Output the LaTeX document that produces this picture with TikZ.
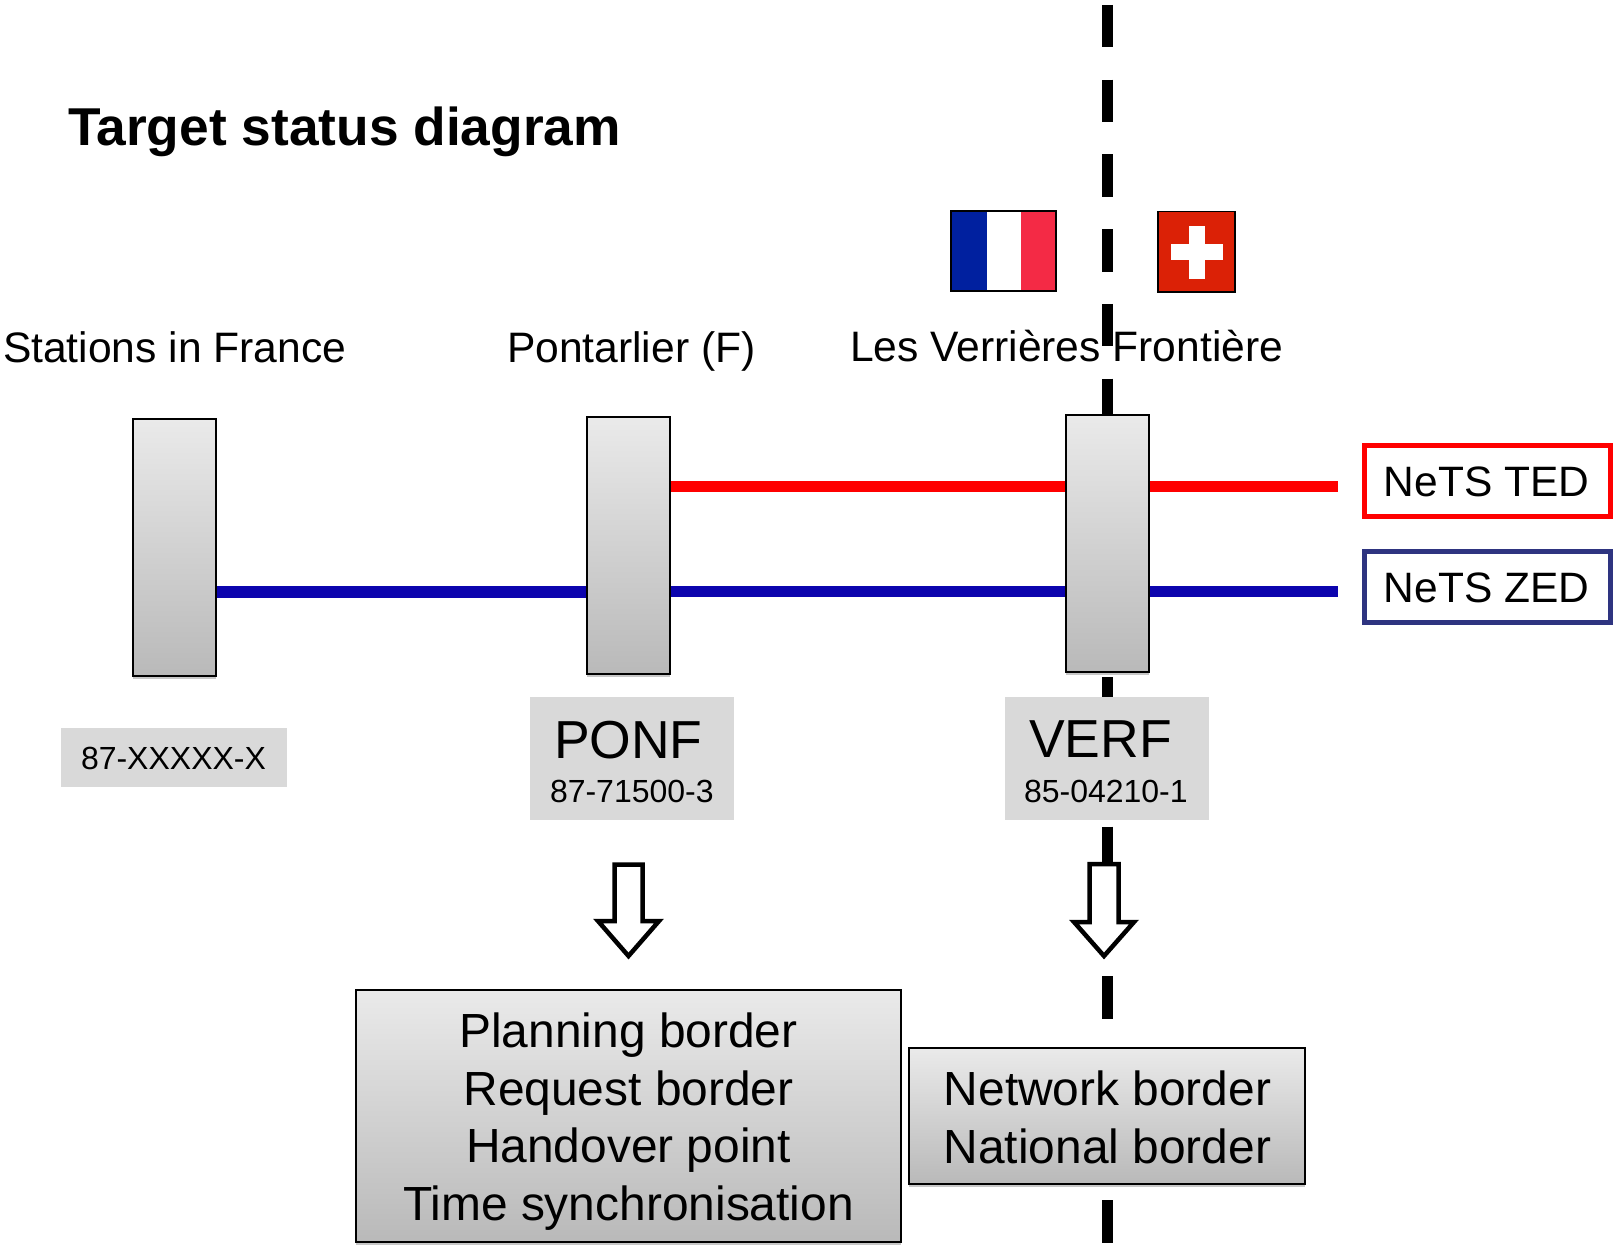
\documentclass[tikz,border=0pt]{standalone}
\usepackage{fontspec}
\setmainfont{Liberation Sans}
\usetikzlibrary{backgrounds,shadows}
\definecolor{boxtop}{HTML}{EAEAEA}
\definecolor{boxbot}{HTML}{B9B9B9}
\definecolor{greylab}{HTML}{D9D9D9}
\definecolor{netblue}{HTML}{0C04AE}
\definecolor{zedframe}{HTML}{2E3480}
\definecolor{frblue}{HTML}{00209F}
\definecolor{frred}{HTML}{F42A45}
\definecolor{chred}{HTML}{DB2106}
\tikzset{
  gradbox/.style={draw=black,line width=2pt,top color=boxtop,bottom color=boxbot,inner sep=0pt,outer sep=0pt,
    general shadow={shadow yshift=-3pt,fill=black,opacity=.22}},
  stationbox/.style={gradbox,minimum width=83pt,minimum height=257.5pt},
  greybox/.style={fill=greylab,inner sep=0pt,outer sep=0pt},
  netsbox/.style={fill=white,line width=5pt,inner sep=0pt,outer sep=0pt,minimum width=246pt,minimum height=71pt,text height=32pt,text depth=0pt,font=\fontsize{42.5}{50}\selectfont},
  lab/.style={anchor=base west,inner sep=0pt,outer sep=0pt},
  caption/.style={lab,font=\fontsize{42.6}{50}\selectfont},
  code/.style={lab,font=\fontsize{32}{38}\selectfont},
  big/.style={lab,font=\fontsize{53.5}{60}\selectfont},
  trackline/.style={line width=11pt},
  blueline/.style={line width=11.5pt,netblue},
  border/.style={line width=11pt,dash pattern=on 42.5pt off 32.2pt},
  hollow/.style={draw=black,fill=white,line width=4.5pt,miter limit=10},
  boxtext/.style={align=center,inner sep=0pt,font=\fontsize{47.9}{57.6}\selectfont},
}
\begin{document}
\begin{tikzpicture}[x=1pt,y=-1pt]
\useasboundingbox (0,0) rectangle (1614,1247);
% title and captions
\node[lab,font=\bfseries\fontsize{53.3}{60}\selectfont] (title) at (68,145) {Target status diagram};
\node[caption] (c1) at (3,362) {Stations in France};
\node[caption] (c2) at (507,362) {Pontarlier (F)};
\node[caption] (c3) at (850,361) {Les Verrières Frontière};
% flags
\fill[frblue] (950,210) rectangle (986.7,292);
\fill[white] (986.7,210) rectangle (1021,292);
\fill[frred] (1021,210) rectangle (1056.5,292);
\draw[line width=1.6pt] (950.8,210.8) rectangle (1055.7,291.2);
\fill[chred] (1157,210.5) rectangle (1236,292.5);
\fill[white] (1170.7,244.3) rectangle (1223,260);
\fill[white] (1189,225.7) rectangle (1205,279);
\draw[line width=1.6pt] (1157.8,211.3) rectangle (1235.2,291.7);
% stations
\node[stationbox] (s1) at (174.4,547.5) {};
\node[stationbox] (s2) at (628.4,545.5) {};
\node[stationbox] (s3) at (1107,543.5) {};
% grey labels
\node[greybox,minimum width=226pt,minimum height=59pt] (g1) at (174,757.5) {};
\node[code] (g1t) at (81,769) {87-XXXXX-X};
\node[greybox,minimum width=204pt,minimum height=123pt] (g2) at (632,758.5) {};
\node[big] (g2a) at (554,758) {PONF};
\node[code] (g2b) at (550,802) {87-71500-3};
\node[greybox,minimum width=204pt,minimum height=123pt] (g3) at (1107,758) {};
\node[big] (g3a) at (1029,757) {VERF};
\node[code] (g3b) at (1024,802) {85-04210-1};
% NeTS boxes
\node[netsbox,draw=red] (ted) at (1487.5,480.7) {NeTS TED\hspace*{2pt}};
\node[netsbox,draw=zedframe] (zed) at (1487.5,586.7) {NeTS ZED\hspace*{2pt}};
% arrows
\draw[hollow] (614.5,864.5) -- (642.5,864.5) -- (642.5,921) -- (659,921) -- (628.5,956) -- (598,921) -- (614.5,921) -- cycle;
\draw[hollow] (1089.5,864) -- (1118.5,864) -- (1118.5,922) -- (1134,922) -- (1104,956) -- (1074,922) -- (1089.5,922) -- cycle;
% result boxes
\node[gradbox,minimum width=545pt,minimum height=252pt] (r1) at (628.5,1116) {};
\node[boxtext] (r1t) at (628.5,1121.5) {Planning border\\Request border\\Handover point\\Time synchronisation};
\node[gradbox,minimum width=396pt,minimum height=136pt] (r2) at (1107,1116) {};
\node[boxtext] (r2t) at (1107.5,1117.5) {Network border\\National border};
% connectors
\coordinate (ry) at (0,486);
\coordinate (by) at (0,591.5);
\coordinate (byl) at (0,592);
\coordinate (lineend) at (1338,0);
\coordinate (bt) at (1107,5);
\coordinate (bb) at (1107,1243);
\begin{scope}[on background layer]
\draw[border] (bt) -- (bb);
\draw[trackline,red] (s2.east |- ry) -- (s3.west |- ry);
\draw[trackline,red] (s3.east |- ry) -- (lineend |- ry);
\draw[blueline] (s1.east |- byl) -- (s2.west |- byl);
\draw[blueline] (s2.east |- by) -- (s3.west |- by);
\draw[blueline] (s3.east |- by) -- (lineend |- by);
\end{scope}
\end{tikzpicture}
\end{document}
